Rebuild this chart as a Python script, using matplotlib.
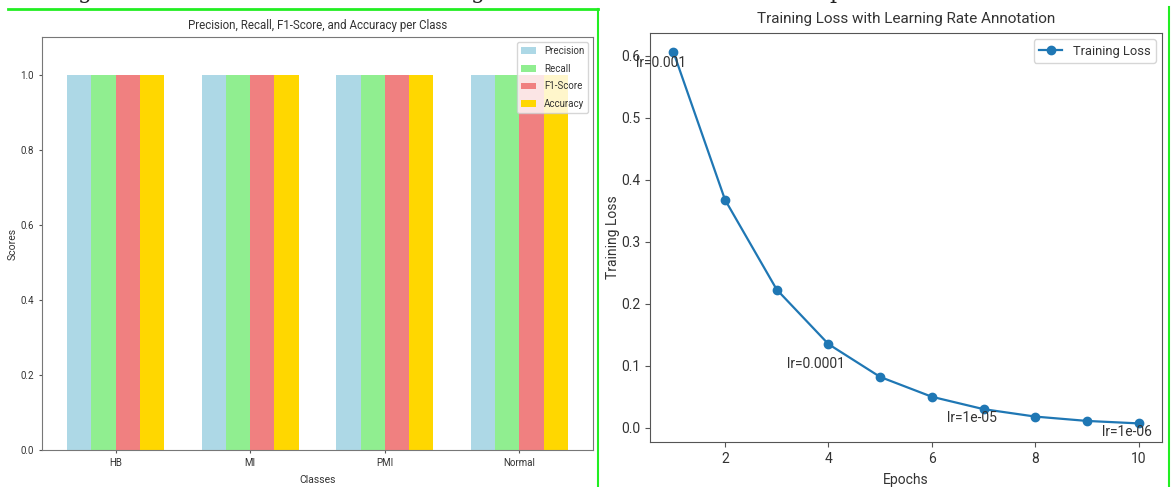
import matplotlib
matplotlib.use("Agg")
import matplotlib.pyplot as plt
import numpy as np
from matplotlib.lines import Line2D

# left panel: per-class metrics
classes = ["HB", "MI", "PMI", "Normal"]
precision = [1.0, 1.0, 1.0, 1.0]
recall = [1.0, 1.0, 1.0, 1.0]
f1_score = [1.0, 1.0, 1.0, 1.0]
accuracy = [1.0, 1.0, 1.0, 1.0]

# right panel: training loss per epoch
epochs = [1, 2, 3, 4, 5, 6, 7, 8, 9, 10]
train_loss = [0.607, 0.368, 0.223, 0.135, 0.082, 0.050, 0.030, 0.018, 0.011, 0.007]
lr_epochs = [1, 4, 7, 10]
lr_values = ["0.001", "0.0001", "1e-05", "1e-06"]

plt.rcParams["font.family"] = ["Roboto", "DejaVu Sans"]

fig = plt.figure(figsize=(11.73, 4.87), dpi=100)
W, H = 1173, 487


def px_axes(x0, y0, x1, y1):
    return fig.add_axes([x0 / W, 1 - y1 / H, (x1 - x0) / W, (y1 - y0) / H])


# ---- left: grouped bars
axL = px_axes(42, 37, 593, 450)
x = np.arange(len(classes))
w = 0.18
series = [("Precision", precision, "lightblue"), ("Recall", recall, "lightgreen"),
          ("F1-Score", f1_score, "lightcoral"), ("Accuracy", accuracy, "gold")]
for i, (name, vals, col) in enumerate(series):
    axL.bar(x + (i - 1.5) * w, vals, w, label=name, color=col)
axL.set_xticks(x)
axL.set_xticklabels(classes)
axL.set_ylim(0, 1.1)
axL.set_xlabel("Classes", fontsize=7.5, color="#333333", labelpad=4.5)
axL.set_ylabel("Scores", fontsize=7.5, color="#333333", labelpad=1.5)
axL.set_title("Precision, Recall, F1-Score, and Accuracy per Class", fontsize=8.3,
              color="#333333", pad=6)
axL.tick_params(labelsize=7, labelcolor="#333333", color="#555555", length=2.5)
for s in axL.spines.values():
    s.set_color("#777777")
axL.legend(loc="upper right", fontsize=7, handlelength=1.6, labelspacing=0.8,
           labelcolor="#333333")

# ---- right: training loss
axR = px_axes(650, 33, 1162, 442)
axR.plot(epochs, train_loss, marker="o", color="#1f77b4", markersize=6, linewidth=1.6,
         label="Training Loss")
offsets = [(-12, -11), (-12, -20), (-12, -9), (-12, -9)]
for ep, lr, off in zip(lr_epochs, lr_values, offsets):
    axR.annotate(f"lr={lr}", (ep, train_loss[epochs.index(ep)]), textcoords="offset pixels",
                 xytext=off, ha="center", va="center", fontsize=10, color="#333333")
axR.set_xticks([2, 4, 6, 8, 10])
axR.set_yticks([0.0, 0.1, 0.2, 0.3, 0.4, 0.5, 0.6])
axR.set_xlabel("Epochs", fontsize=10, color="#333333", labelpad=5.5)
axR.set_ylabel("Training Loss", fontsize=10, color="#333333", labelpad=1)
axR.set_title("Training Loss with Learning Rate Annotation", fontsize=11, color="#333333", pad=7)
axR.tick_params(labelsize=10, labelcolor="#333333", color="#555555")
for s in axR.spines.values():
    s.set_color("#555555")
axR.legend(loc="upper right", fontsize=9.3, handlelength=1.8, labelcolor="#333333")

# ---- screenshot border lines and clipped caption glyphs
green = "#22ee22"
fig.add_artist(Line2D([8 / W, 598 / W], [1 - 9 / H, 1 - 9 / H], color=green, lw=2))
fig.add_artist(Line2D([598 / W, 598 / W], [1 - 9 / H, 0], color=green, lw=1.5))
fig.add_artist(Line2D([1169 / W, 1169 / W], [1 - 7 / H, 0], color=green, lw=1.5))
for gx, ch in [(85, "g"), (478, "g"), (836, "p")]:
    fig.text(gx / W, 1 + 1.5 / H, ch, family="DejaVu Serif", fontsize=16,
             ha="center", va="baseline", color="#222222")

fig.savefig("out.png", dpi=100)
